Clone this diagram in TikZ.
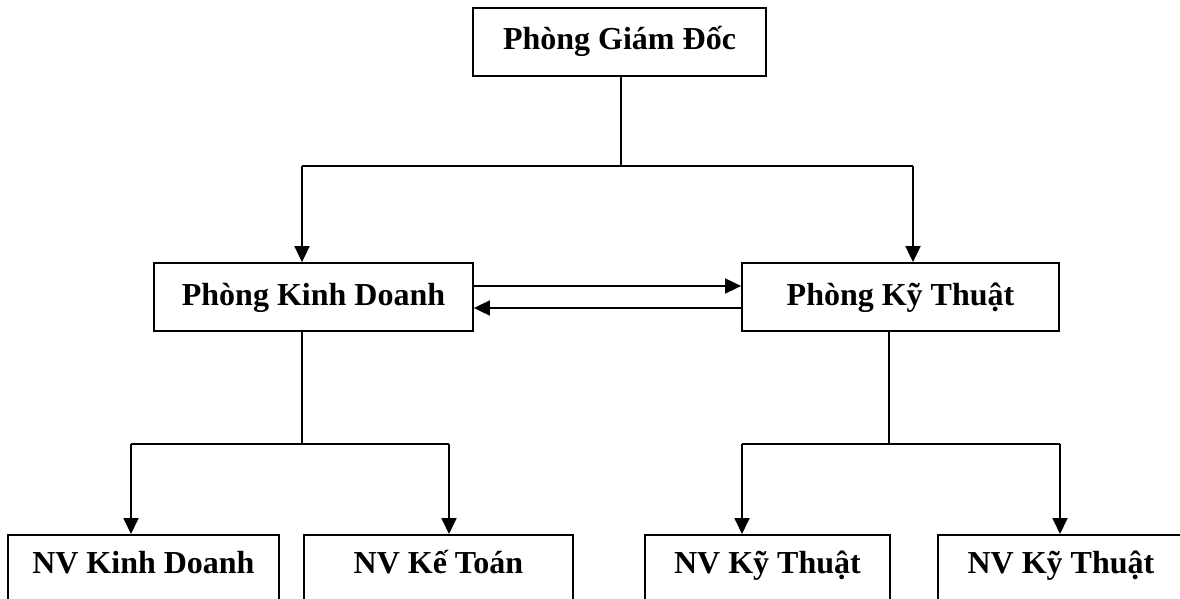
\documentclass[tikz,border=0pt]{standalone}
\usepackage{fontspec}
\setmainfont{Liberation Serif}
\usetikzlibrary{arrows.meta}
\begin{document}
\begin{tikzpicture}[x=1pt,y=-1pt,
  box/.style={draw,line width=1.8pt,rectangle,inner sep=0pt,
    font=\fontsize{32}{38}\selectfont\bfseries,text height=22pt,text depth=6pt},
  lowbox/.style={draw,line width=1.8pt,rectangle,inner xsep=0pt,inner ysep=0pt,anchor=north west,
    font=\fontsize{32}{38}\selectfont\bfseries,text height=39pt,text depth=70pt},
  conn/.style={line width=1.8pt},
  arr/.style={line width=1.8pt,-{Triangle[length=16pt,width=15pt]}}]
\clip (0,0) rectangle (1180,599);
\fill[white] (0,0) rectangle (1180,599);
% boxes
\node[box,minimum width=293pt,minimum height=68pt] (top) at (619.5,42) {Phòng Giám Đốc};
\node[box,minimum width=319pt,minimum height=68pt] (pkd) at (313.5,297) {Phòng Kinh Doanh};
\node[box,minimum width=317pt,minimum height=68pt] (pkt) at (900.5,297) {Phòng Kỹ Thuật};
\node[lowbox,minimum width=271pt] (b1) at (7,534) {NV Kinh Doanh};
\node[lowbox,minimum width=269pt] (b2) at (303,534) {NV Kế Toán};
\node[lowbox,minimum width=245pt] (b3) at (644,534) {NV Kỹ Thuật};
\node[lowbox,minimum width=246pt] (b4) at (937,534) {NV Kỹ Thuật};
% junctions
\coordinate (jt) at (621,166);
\coordinate (jtl) at (302,166);
\coordinate (jtr) at (913,166);
\coordinate (jl) at (302,444);
\coordinate (jll) at (131,444);
\coordinate (jlr) at (449,444);
\coordinate (jr) at (889,444);
\coordinate (jrl) at (742,444);
\coordinate (jrr) at (1060,444);
% top level
\draw[conn] (jt |- top.south) -- (jt);
\draw[conn] (jtl) -- (jtr);
\draw[arr] (jtl) -- (jtl |- pkd.north);
\draw[arr] (jtr) -- (jtr |- pkt.north);
% between departments
\draw[arr] ([yshift=11pt]pkd.east) -- ([yshift=11pt]pkd.east -| pkt.west);
\draw[arr] ([yshift=-11pt]pkt.west) -- ([yshift=-11pt]pkt.west -| pkd.east);
% left branch
\draw[conn] (jl |- pkd.south) -- (jl);
\draw[conn] (jll) -- (jlr);
\draw[arr] (jll) -- (jll |- b1.north);
\draw[arr] (jlr) -- (jlr |- b2.north);
% right branch
\draw[conn] (jr |- pkt.south) -- (jr);
\draw[conn] (jrl) -- (jrr);
\draw[arr] (jrl) -- (jrl |- b3.north);
\draw[arr] (jrr) -- (jrr |- b4.north);
\end{tikzpicture}
\end{document}
